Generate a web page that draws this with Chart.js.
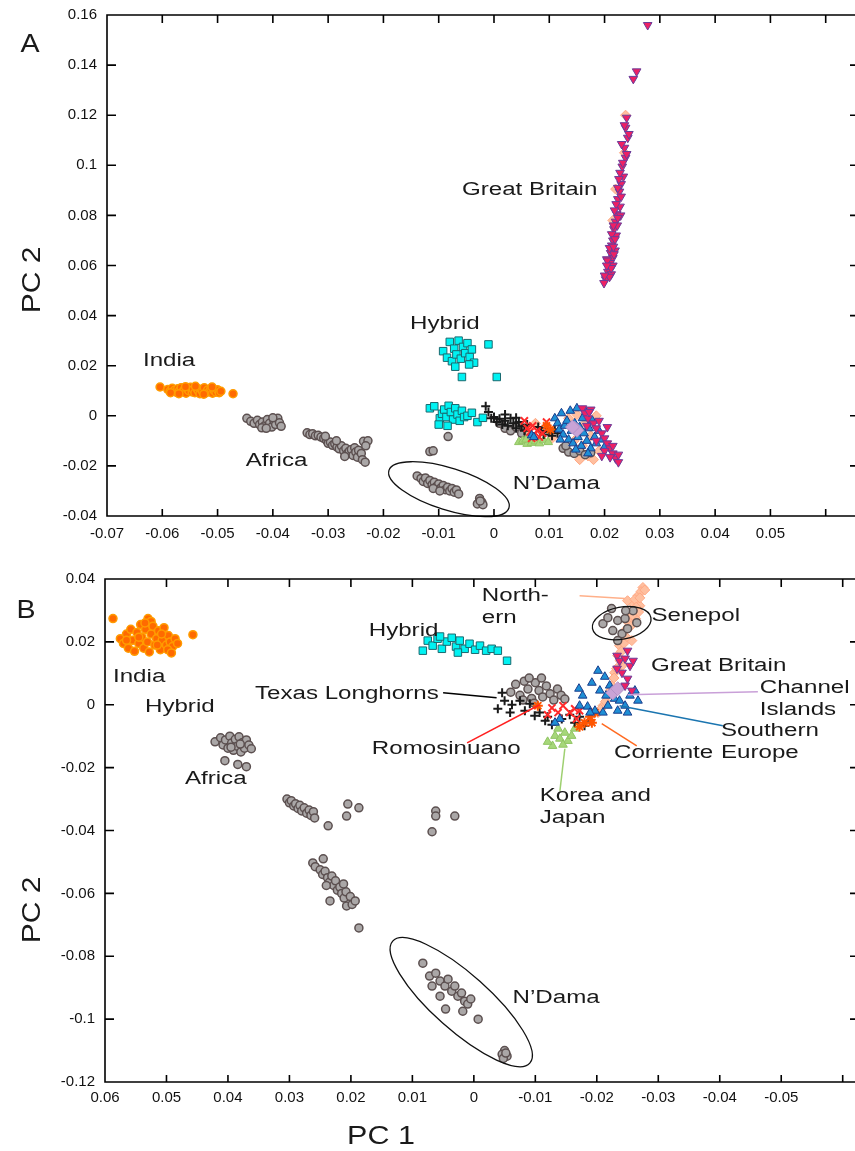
<!DOCTYPE html>
<html>
<head>
<meta charset="utf-8">
<script src="https://cdn.jsdelivr.net/npm/chart.js@4.4.1/dist/chart.umd.min.js"></script>
<style>
body{margin:0;background:#fff;width:855px;height:1151px;position:relative;overflow:hidden}
canvas{position:absolute;left:0}
#chartA{top:0}
#chartB{top:560px}
</style>
</head>
<body>
<canvas id="chartA" width="863" height="550"></canvas>
<canvas id="chartB" width="863" height="591"></canvas>
<script>
// ---- tick values / labels ----
const xTicksA = [-0.07,-0.06,-0.05,-0.04,-0.03,-0.02,-0.01,0,0.01,0.02,0.03,0.04,0.05,0.06];
const xTickLabelsA = ['-0.07','-0.06','-0.05','-0.04','-0.03','-0.02','-0.01','0','0.01','0.02','0.03','0.04','0.05',''];
const yTicksA = [0.16,0.14,0.12,0.1,0.08,0.06,0.04,0.02,0,-0.02,-0.04];
const yTickLabelsA = ['0.16','0.14','0.12','0.1','0.08','0.06','0.04','0.02','0','-0.02','-0.04'];
const xTicksB = [0.06,0.05,0.04,0.03,0.02,0.01,0,-0.01,-0.02,-0.03,-0.04,-0.05,-0.06];
const xTickLabelsB = ['0.06','0.05','0.04','0.03','0.02','0.01','0','-0.01','-0.02','-0.03','-0.04','-0.05',''];
const yTicksB = [0.04,0.02,0,-0.02,-0.04,-0.06,-0.08,-0.1,-0.12];
const yTickLabelsB = ['0.04','0.02','0','-0.02','-0.04','-0.06','-0.08','-0.1','-0.12'];

// ---- panel A points [PC1, PC2] ----
const indiaA = [[-0.0604,0.0115],[-0.0472,0.0088],[-0.0590,0.0105],[-0.0586,0.0098],[-0.0582,0.0110],[-0.0578,0.0102],[-0.0575,0.0094],[-0.0572,0.0108],[-0.0569,0.0100],[-0.0566,0.0112],[-0.0563,0.0096],[-0.0560,0.0104],[-0.0557,0.0090],[-0.0555,0.0108],[-0.0552,0.0100],[-0.0549,0.0114],[-0.0546,0.0095],[-0.0544,0.0105],[-0.0541,0.0092],[-0.0538,0.0110],[-0.0535,0.0100],[-0.0532,0.0088],[-0.0530,0.0106],[-0.0527,0.0097],[-0.0524,0.0112],[-0.0521,0.0092],[-0.0518,0.0103],[-0.0515,0.0096],[-0.0512,0.0108],[-0.0509,0.0090],[-0.0506,0.0100],[-0.0503,0.0094],[-0.0500,0.0104],[-0.0497,0.0092],[-0.0494,0.0098],[-0.0585,0.0092],[-0.0570,0.0088],[-0.0558,0.0116],[-0.0540,0.0118],[-0.0525,0.0086],[-0.0510,0.0115]];
const africaA = [[-0.0447,-0.0010],[-0.0440,-0.0022],[-0.0434,-0.0030],[-0.0428,-0.0018],[-0.0424,-0.0035],[-0.0419,-0.0025],[-0.0415,-0.0040],[-0.0410,-0.0015],[-0.0406,-0.0030],[-0.0402,-0.0045],[-0.0398,-0.0020],[-0.0395,-0.0035],[-0.0391,-0.0010],[-0.0388,-0.0028],[-0.0385,-0.0042],[-0.0420,-0.0048],[-0.0412,-0.0050],[-0.0400,-0.0008],
  [-0.0338,-0.0068],[-0.0333,-0.0075],[-0.0328,-0.0072],[-0.0323,-0.0080],[-0.0318,-0.0078],[-0.0313,-0.0085],[-0.0308,-0.0090],[-0.0303,-0.0098],[-0.0300,-0.0110],[-0.0296,-0.0105],[-0.0292,-0.0118],[-0.0288,-0.0112],[-0.0284,-0.0125],[-0.0280,-0.0132],[-0.0276,-0.0120],[-0.0272,-0.0140],[-0.0268,-0.0130],[-0.0265,-0.0150],[-0.0262,-0.0142],[-0.0258,-0.0135],[-0.0255,-0.0158],[-0.0252,-0.0128],[-0.0250,-0.0145],[-0.0247,-0.0165],[-0.0245,-0.0138],[-0.0240,-0.0150],[-0.0236,-0.0102],[-0.0228,-0.0100],[-0.0232,-0.0120],[-0.0238,-0.0175],[-0.0233,-0.0185],[-0.0270,-0.0162],[-0.0285,-0.0100],[-0.0305,-0.0082],
  [-0.0116,-0.0143],[-0.0110,-0.0140],[-0.0083,-0.0083]];
const ndamaA = [[-0.0139,-0.0240],[-0.0132,-0.0250],[-0.0128,-0.0262],[-0.0124,-0.0248],[-0.0120,-0.0270],[-0.0116,-0.0258],[-0.0112,-0.0275],[-0.0108,-0.0265],[-0.0104,-0.0282],[-0.0100,-0.0272],[-0.0096,-0.0288],[-0.0092,-0.0278],[-0.0088,-0.0295],[-0.0084,-0.0285],[-0.0080,-0.0300],[-0.0076,-0.0290],[-0.0072,-0.0305],[-0.0068,-0.0296],[-0.0064,-0.0312],[-0.0110,-0.0290],[-0.0098,-0.0300],[-0.0026,-0.0330],[-0.0022,-0.0345],[-0.0030,-0.0352],[-0.0020,-0.0355],[-0.0025,-0.0340]];
const senepolA = [[0.0020,-0.0050],[0.0030,-0.0060],[0.0040,-0.0045],[0.0050,-0.0070],[0.0010,-0.0030],[0.0125,-0.0130],[0.0135,-0.0145],[0.0145,-0.0150],[0.0155,-0.0140],[0.0165,-0.0155],[0.0175,-0.0148],[0.0130,-0.0120]];
const hybridA = [[-0.0092,0.0258],[-0.0085,0.0232],[-0.0080,0.0295],[-0.0076,0.0218],[-0.0072,0.0268],[-0.0068,0.0245],[-0.0064,0.0300],[-0.0060,0.0228],[-0.0056,0.0275],[-0.0052,0.0250],[-0.0048,0.0290],[-0.0044,0.0235],[-0.0040,0.0265],[-0.0036,0.0212],[-0.0070,0.0196],[-0.0058,0.0155],[-0.0010,0.0285],[0.0005,0.0155],[-0.0045,0.0205],
  [-0.0116,0.0030],[-0.0108,0.0038],[-0.0098,-0.0010],[-0.0094,0.0008],[-0.0090,0.0025],[-0.0086,-0.0005],[-0.0082,0.0040],[-0.0078,0.0015],[-0.0074,-0.0015],[-0.0070,0.0030],[-0.0066,0.0005],[-0.0062,-0.0020],[-0.0058,0.0020],[-0.0054,-0.0005],[-0.0048,0.0000],[-0.0040,0.0012],[-0.0030,-0.0025],[-0.0020,-0.0008],[-0.0100,-0.0035],[-0.0084,-0.0040]];
const texasA = [[-0.0015,0.0038],[-0.0010,0.0015],[-0.0005,-0.0010],[0.0000,-0.0005],[0.0005,-0.0025],[0.0010,-0.0012],[0.0015,-0.0035],[0.0020,-0.0020],[0.0025,-0.0040],[0.0030,-0.0010],[0.0035,-0.0030],[0.0040,-0.0050],[0.0045,-0.0025],[0.0050,-0.0042],[0.0055,-0.0060],[0.0060,-0.0035],[0.0080,-0.0045],[0.0085,-0.0060],[0.0090,-0.0075],[0.0095,-0.0050],[0.0100,-0.0065],[0.0105,-0.0080],[0.0110,-0.0055],[0.0115,-0.0070],[0.0020,0.0005],[0.0040,-0.0008]];
const romoA = [[0.0055,-0.0020],[0.0060,-0.0050],[0.0065,-0.0065],[0.0070,-0.0040],[0.0072,-0.0075],[0.0078,-0.0060],[0.0082,-0.0085],[0.0088,-0.0070],[0.0095,-0.0025],[0.0068,-0.0090]];
const koreaA = [[0.0045,-0.0105],[0.0052,-0.0100],[0.0060,-0.0112],[0.0068,-0.0108],[0.0075,-0.0102],[0.0082,-0.0110],[0.0090,-0.0098],[0.0098,-0.0105],[0.0058,-0.0095]];
const corrienteA = [[0.0095,-0.0040],[0.0102,-0.0055]];
const southA = [[0.0068,-0.0078],[0.0072,-0.0085],[0.0110,-0.0010],[0.0115,-0.0030],[0.0118,-0.0055],[0.0122,0.0010],[0.0125,-0.0075],[0.0128,-0.0040],[0.0132,-0.0020],[0.0135,-0.0095],[0.0138,0.0020],[0.0140,-0.0060],[0.0143,-0.0110],[0.0146,-0.0030],[0.0150,0.0030],[0.0152,-0.0085],[0.0155,-0.0045],[0.0158,-0.0120],[0.0160,-0.0010],[0.0163,-0.0070],[0.0166,0.0015],[0.0168,-0.0100],[0.0172,-0.0050],[0.0175,-0.0130],[0.0178,-0.0020],[0.0182,-0.0085],[0.0185,-0.0110],[0.0190,-0.0060],[0.0120,-0.0095],[0.0148,-0.0135],[0.0170,-0.0150],[0.0195,-0.0095],[0.0200,-0.0125]];
const channelA = [[0.0146,-0.0050],[0.0150,-0.0058],[0.0142,-0.0045]];
const northA = [[0.0135,-0.0010],[0.0150,0.0005],[0.0165,-0.0030],[0.0175,-0.0080],[0.0160,-0.0120],[0.0170,-0.0160],[0.0180,-0.0175],[0.0155,-0.0175],[0.0190,-0.0140],[0.0145,-0.0100],[0.0060,-0.0050],[0.0045,-0.0040],[0.0075,-0.0030],[0.0105,-0.0090],[0.0185,0.0000],[0.0238,0.1200],[0.0220,0.0905],[0.0215,0.0780],[0.0236,0.1050]];
const britainA = [[0.0278,0.1560],[0.0258,0.1375],[0.0252,0.1345],[0.0240,0.1190],[0.0238,0.1150],[0.0242,0.1110],[0.0236,0.1070],[0.0238,0.1030],[0.0232,0.0995],[0.0234,0.0955],[0.0230,0.0925],[0.0227,0.0895],[0.0224,0.0865],[0.0228,0.0835],[0.0222,0.0805],[0.0220,0.0775],[0.0217,0.0745],[0.0221,0.0720],[0.0215,0.0700],[0.0213,0.0680],[0.0219,0.0660],[0.0211,0.0650],[0.0215,0.0630],[0.0210,0.0610],[0.0208,0.0590],[0.0215,0.0600],[0.0206,0.0575],[0.0212,0.0565],[0.0202,0.0545],[0.0199,0.0530],[0.0204,0.0625],[0.0217,0.0645],[0.0223,0.0760],[0.0229,0.0800],[0.0231,0.1085],[0.0244,0.1125],
  [0.0236,0.1160],[0.0240,0.1045],[0.0233,0.1010],[0.0228,0.0970],[0.0226,0.0945],[0.0224,0.0910],[0.0230,0.0875],[0.0221,0.0845],[0.0218,0.0820],[0.0224,0.0790],[0.0216,0.0760],[0.0213,0.0725],[0.0219,0.0705],[0.0209,0.0670],[0.0216,0.0675],[0.0205,0.0620],[0.0212,0.0590],[0.0204,0.0600],[0.0209,0.0555],[0.0200,0.0560],
  [0.0160,0.0030],[0.0165,0.0010],[0.0170,-0.0010],[0.0175,0.0025],[0.0180,-0.0030],[0.0185,-0.0050],[0.0190,-0.0020],[0.0195,-0.0070],[0.0200,-0.0090],[0.0205,-0.0110],[0.0210,-0.0130],[0.0215,-0.0150],[0.0220,-0.0170],[0.0225,-0.0185],[0.0200,-0.0140],[0.0210,-0.0165],[0.0185,-0.0100],[0.0215,-0.0120],[0.0195,-0.0160],[0.0225,-0.0155],[0.0172,0.0015],[0.0168,-0.0040],[0.0205,-0.0045]];

// ---- panel B points [PC1, PC2] ----
const indiaB = [[0.0587,0.0274],[0.0457,0.0223],[0.0530,0.0274],[0.0525,0.0265],[0.0575,0.0210],[0.0570,0.0195],[0.0565,0.0225],[0.0562,0.0180],[0.0558,0.0240],[0.0555,0.0205],[0.0552,0.0170],[0.0548,0.0230],[0.0545,0.0195],[0.0542,0.0255],[0.0540,0.0215],[0.0537,0.0180],[0.0534,0.0240],[0.0531,0.0200],[0.0528,0.0168],[0.0525,0.0225],[0.0522,0.0250],[0.0519,0.0190],[0.0516,0.0210],[0.0513,0.0235],[0.0510,0.0175],[0.0507,0.0205],[0.0504,0.0245],[0.0500,0.0190],[0.0497,0.0220],[0.0494,0.0200],[0.0490,0.0185],[0.0486,0.0210],[0.0482,0.0195],[0.0565,0.0205],[0.0545,0.0215],[0.0515,0.0190],[0.0498,0.0175],[0.0492,0.0165],[0.0535,0.0260],[0.0508,0.0225]];
const africaB = [[0.0421,-0.0118],[0.0412,-0.0105],[0.0408,-0.0128],[0.0404,-0.0112],[0.0400,-0.0138],[0.0397,-0.0100],[0.0394,-0.0122],[0.0391,-0.0145],[0.0388,-0.0110],[0.0385,-0.0132],[0.0382,-0.0102],[0.0379,-0.0150],[0.0376,-0.0120],[0.0373,-0.0138],[0.0370,-0.0112],[0.0366,-0.0128],[0.0362,-0.0140],[0.0380,-0.0125],[0.0395,-0.0135],[0.0405,-0.0178],[0.0384,-0.0190],[0.0370,-0.0197],
  [0.0304,-0.0300],[0.0300,-0.0312],[0.0297,-0.0305],[0.0293,-0.0322],[0.0290,-0.0315],[0.0286,-0.0330],[0.0283,-0.0320],[0.0280,-0.0338],[0.0276,-0.0328],[0.0272,-0.0345],[0.0268,-0.0335],[0.0265,-0.0352],[0.0261,-0.0340],[0.0259,-0.0360],[0.0237,-0.0385],[0.0205,-0.0316],[0.0207,-0.0354],[0.0187,-0.0328],
  [0.0262,-0.0503],[0.0245,-0.0490],[0.0258,-0.0515],[0.0250,-0.0525],[0.0246,-0.0540],[0.0242,-0.0530],[0.0238,-0.0550],[0.0235,-0.0565],[0.0231,-0.0545],[0.0228,-0.0575],[0.0225,-0.0560],[0.0222,-0.0590],[0.0218,-0.0580],[0.0215,-0.0600],[0.0211,-0.0615],[0.0208,-0.0595],[0.0207,-0.0640],[0.0201,-0.0610],[0.0198,-0.0635],[0.0193,-0.0624],[0.0234,-0.0624],[0.0187,-0.0710],[0.0240,-0.0575],[0.0212,-0.0570],
  [0.0062,-0.0338],[0.0062,-0.0354],[0.0031,-0.0354],[0.0068,-0.0404]];
const ndamaB = [[0.0083,-0.0822],[0.0072,-0.0863],[0.0062,-0.0854],[0.0055,-0.0879],[0.0047,-0.0895],[0.0042,-0.0873],[0.0036,-0.0911],[0.0031,-0.0895],[0.0026,-0.0927],[0.0020,-0.0917],[0.0015,-0.0943],[0.0010,-0.0952],[0.0005,-0.0936],[-0.0007,-0.1000],[0.0018,-0.0975],[0.0055,-0.0927],[0.0068,-0.0895],[0.0046,-0.0968],
  [-0.0050,-0.1100],[-0.0046,-0.1112],[-0.0054,-0.1118],[-0.0048,-0.1125],[-0.0052,-0.1108]];
const greyMidB = [[-0.0060,0.0040],[-0.0068,0.0065],[-0.0075,0.0030],[-0.0082,0.0075],[-0.0088,0.0050],[-0.0094,0.0020],[-0.0100,0.0070],[-0.0106,0.0045],[-0.0112,0.0025],[-0.0118,0.0060],[-0.0124,0.0035],[-0.0130,0.0015],[-0.0136,0.0050],[-0.0142,0.0030],[-0.0148,0.0018],[-0.0090,0.0085],[-0.0110,0.0085],[-0.0080,0.0015],[-0.0098,0.0005]];
const senepolB = [[-0.0210,0.0258],[-0.0218,0.0277],[-0.0226,0.0236],[-0.0234,0.0268],[-0.0241,0.0226],[-0.0246,0.0274],[-0.0250,0.0242],[-0.0259,0.0299],[-0.0265,0.0261],[-0.0224,0.0306],[-0.0234,0.0204],[-0.0247,0.0299]];
const northB = [[-0.0275,0.0373],[-0.0267,0.0347],[-0.0259,0.0322],[-0.0254,0.0293],[-0.0270,0.0315],[-0.0246,0.0236],[-0.0237,0.0188],[-0.0234,0.0156],[-0.0241,0.0124],[-0.0229,0.0102],[-0.0224,0.0061],[-0.0218,0.0029],[-0.0210,-0.0003],[-0.0202,-0.0025],[-0.0250,0.0331],[-0.0257,0.0204],[-0.0263,0.0274],[-0.0272,0.0360],[-0.0262,0.0335],[-0.0240,0.0170],
  [-0.0278,0.0365],[-0.0270,0.0340],[-0.0264,0.0310],[-0.0258,0.0285],[-0.0252,0.0260],[-0.0248,0.0215],[-0.0244,0.0195],[-0.0238,0.0140],[-0.0232,0.0115],[-0.0228,0.0085],[-0.0222,0.0045],[-0.0214,0.0010],[-0.0206,-0.0015],[-0.0268,0.0295],[-0.0255,0.0250]];
const britainB = [[-0.0233,0.0156],[-0.0237,0.0140],[-0.0246,0.0147],[-0.0254,0.0124],[-0.0241,0.0102],[-0.0250,0.0083],[-0.0259,0.0140],[-0.0233,0.0115],[-0.0246,0.0061],[-0.0257,0.0045],[-0.0250,0.0172]];
const southB = [[-0.0202,0.0108],[-0.0213,0.0089],[-0.0192,0.0070],[-0.0221,0.0061],[-0.0205,0.0045],[-0.0229,0.0019],[-0.0237,0.0013],[-0.0218,-0.0003],[-0.0197,-0.0019],[-0.0246,-0.0003],[-0.0254,0.0029],[-0.0262,0.0045],[-0.0234,-0.0019],[-0.0210,-0.0025],[-0.0185,-0.0006],[-0.0177,0.0029],[-0.0172,-0.0003],[-0.0189,-0.0025],[-0.0267,0.0013],[-0.0250,-0.0025],[-0.0171,0.0051],[-0.0140,-0.0045],[-0.0132,-0.0057],[-0.0224,0.0045],[-0.0215,0.0029]];
const channelB = [[-0.0226,0.0038],[-0.0234,0.0051]];
const texasB = [[-0.0046,0.0038],[-0.0050,0.0013],[-0.0062,0.0000],[-0.0059,-0.0025],[-0.0075,0.0013],[-0.0083,-0.0019],[-0.0091,0.0003],[-0.0099,-0.0035],[-0.0107,-0.0025],[-0.0116,-0.0051],[-0.0120,-0.0038],[-0.0127,-0.0064],[-0.0143,-0.0045],[-0.0156,-0.0032],[-0.0164,-0.0057],[-0.0172,-0.0038],[-0.0180,-0.0067],[-0.0189,-0.0051],[-0.0039,-0.0013]];
const romoB = [[-0.0127,-0.0010],[-0.0137,-0.0025],[-0.0145,-0.0003],[-0.0156,-0.0025],[-0.0164,-0.0013],[-0.0172,-0.0019],[-0.0167,-0.0045],[-0.0120,-0.0032]];
const corrienteB = [[-0.0104,-0.0003],[-0.0189,-0.0038],[-0.0180,-0.0057],[-0.0197,-0.0025],[-0.0172,-0.0070],[-0.0192,-0.0057]];
const koreaB = [[-0.0132,-0.0099],[-0.0140,-0.0108],[-0.0148,-0.0089],[-0.0153,-0.0115],[-0.0159,-0.0099],[-0.0145,-0.0127],[-0.0128,-0.0131],[-0.0164,-0.0076],[-0.0137,-0.0076],[-0.0120,-0.0118]];
const hybridB = [[0.0083,0.0172],[0.0075,0.0204],[0.0067,0.0188],[0.0059,0.0210],[0.0052,0.0178],[0.0044,0.0201],[0.0036,0.0213],[0.0029,0.0185],[0.0023,0.0204],[0.0015,0.0178],[0.0007,0.0194],[-0.0002,0.0175],[-0.0010,0.0188],[-0.0020,0.0172],[-0.0029,0.0178],[-0.0039,0.0172],[-0.0054,0.0140],[0.0055,0.0217],[0.0026,0.0166]];

// ---- annotations (data coordinates) ----
const labelsA = [
  {t:'Great Britain', x:-0.0058, y:0.0903},
  {t:'Hybrid', x:-0.0152, y:0.0368},
  {t:'India', x:-0.0635, y:0.0218},
  {t:'Africa', x:-0.0449, y:-0.0182},
  {t:'N\u2019Dama', x:0.0034, y:-0.0273}
];
const ellipsesA = [{from:[-0.0190,-0.0218], to:[0.0027,-0.0368], half:21}];
const labelsB = [
  {t:'North-', x:-0.0013, y:0.0347},
  {t:'ern', x:-0.0013, y:0.0277},
  {t:'Senepol', x:-0.0289, y:0.0283},
  {t:'Great Britain', x:-0.0288, y:0.0124},
  {t:'Channel', x:-0.0465, y:0.0054},
  {t:'Islands', x:-0.0465, y:-0.0016},
  {t:'Southern', x:-0.0402, y:-0.0083},
  {t:'Europe', x:-0.0402, y:-0.0153},
  {t:'Corriente', x:-0.0228, y:-0.0153},
  {t:'Texas Longhorns', x:0.0356, y:0.0035},
  {t:'Romosinuano', x:0.0166, y:-0.0140},
  {t:'Korea and', x:-0.0107, y:-0.0290},
  {t:'Japan', x:-0.0107, y:-0.0360},
  {t:'Hybrid', x:0.0171, y:0.0236},
  {t:'India', x:0.0587, y:0.0089},
  {t:'Hybrid', x:0.0535, y:-0.0006},
  {t:'Africa', x:0.0470, y:-0.0236},
  {t:'N\u2019Dama', x:-0.0063, y:-0.0933}
];
const leadersB = [
  {from:[-0.0172,0.0347], to:[-0.0246,0.0338], color:'#ffb08a'},
  {from:[-0.0250,0.0032], to:[-0.0462,0.0041], color:'#c9a0d8'},
  {from:[-0.0237,-0.0003], to:[-0.0405,-0.0067], color:'#1b75b0'},
  {from:[-0.0208,-0.0060], to:[-0.0265,-0.0131], color:'#ff6a20'},
  {from:[-0.0107,0.0000], to:[0.0011,-0.0121], color:'#ff2020'},
  {from:[0.0050,0.0038], to:[-0.0037,0.0022], color:'#000000'},
  {from:[-0.0148,-0.0140], to:[-0.0140,-0.0274], color:'#9ed070'}
];
const ellipsesB = [
  {from:[0.0132,-0.0752], to:[-0.0091,-0.1140], half:28},
  {from:[-0.0193,0.0242], to:[-0.0288,0.0277], half:16}
];

// ---- marker styles ----
const st = {
  britain: {pointStyle:'triangle', pointRotation:180, pointRadius:5, pointBackgroundColor:'#ee2064', pointBorderColor:'#6a3d9a', pointBorderWidth:1},
  channel: {pointStyle:'rectRot', pointRadius:7, pointBackgroundColor:'#c9a3d6', pointBorderColor:'#b592c7', pointBorderWidth:1},
  south: {pointStyle:'triangle', pointRadius:5, pointBackgroundColor:'#1e8fd5', pointBorderColor:'#1a3d8c', pointBorderWidth:1},
  corriente: {pointStyle:'star', pointRadius:5, pointBackgroundColor:'#ff5500', pointBorderColor:'#ff5500', pointBorderWidth:2},
  romo: {pointStyle:'crossRot', pointRadius:5, pointBackgroundColor:'#ff2a2a', pointBorderColor:'#ff2a2a', pointBorderWidth:2},
  texas: {pointStyle:'cross', pointRadius:4.5, pointBackgroundColor:'#1a1a1a', pointBorderColor:'#1a1a1a', pointBorderWidth:2},
  korea: {pointStyle:'triangle', pointRadius:5, pointBackgroundColor:'#a6d77a', pointBorderColor:'#90c462', pointBorderWidth:1},
  hybrid: {pointStyle:'rect', pointRadius:5.3, pointBackgroundColor:'#00f2f2', pointBorderColor:'#1a6a70', pointBorderWidth:1},
  india: {pointStyle:'circle', pointRadius:4, pointBackgroundColor:'#ff6a00', pointBorderColor:'#ff9c00', pointBorderWidth:1.5},
  grey: {pointStyle:'circle', pointRadius:4, pointBackgroundColor:'#aaa7a7', pointBorderColor:'#5c5050', pointBorderWidth:1.5},
  north: {pointStyle:'rectRot', pointRadius:5, pointBackgroundColor:'#ffbf9f', pointBorderColor:'#ffa883', pointBorderWidth:1}
};
const ds = (data, s) => Object.assign({data, showLine:false}, s);

const fontStack = '"Liberation Sans", Arial, Helvetica, sans-serif';
const visibleRight = 855;

function overlay(notes) {
  return {
    id: 'overlay',
    afterDatasetsDraw(chart) {
      const {ctx, chartArea: a} = chart;
      const xs = chart.scales.x, ys = chart.scales.y;
      const px = v => xs.getPixelForValue(v), py = v => ys.getPixelForValue(v);
      ctx.save();
      ctx.lineWidth = 1.5;
      for (const l of notes.lines) {
        ctx.strokeStyle = l.color;
        ctx.beginPath();
        ctx.moveTo(px(l.from[0]), py(l.from[1]));
        ctx.lineTo(px(l.to[0]), py(l.to[1]));
        ctx.stroke();
      }
      ctx.strokeStyle = '#111'; ctx.lineWidth = 1.3;
      for (const e of notes.ellipses) {
        const x1 = px(e.from[0]), y1 = py(e.from[1]), x2 = px(e.to[0]), y2 = py(e.to[1]);
        ctx.beginPath();
        ctx.ellipse((x1+x2)/2, (y1+y2)/2, Math.hypot(x2-x1, y2-y1)/2, e.half, Math.atan2(y2-y1, x2-x1), 0, Math.PI*2);
        ctx.stroke();
      }
      ctx.fillStyle = '#1a1a1a';
      ctx.font = '18px ' + fontStack;
      ctx.textBaseline = 'middle'; ctx.textAlign = 'left';
      for (const n of notes.labels) {
        ctx.save();
        ctx.translate(px(n.x), py(n.y));
        ctx.scale(1.34, 1);
        ctx.fillText(n.t, 0, 0);
        ctx.restore();
      }
      // frame with inward ticks (right edge ticks sit at the page edge)
      const r = Math.min(a.right, visibleRight);
      ctx.strokeStyle = '#000'; ctx.lineWidth = 1.6;
      ctx.beginPath();
      ctx.moveTo(a.right, a.top); ctx.lineTo(a.left, a.top);
      ctx.lineTo(a.left, a.bottom); ctx.lineTo(a.right, a.bottom);
      for (const t of xs.ticks) {
        const x = px(t.value);
        ctx.moveTo(x, a.bottom); ctx.lineTo(x, a.bottom - 7);
        ctx.moveTo(x, a.top); ctx.lineTo(x, a.top + 8);
      }
      for (const t of ys.ticks) {
        const y = py(t.value);
        ctx.moveTo(a.left, y); ctx.lineTo(a.left + 9, y);
        ctx.moveTo(r, y); ctx.lineTo(r - 5, y);
      }
      ctx.stroke();
      // panel titles
      for (const t of notes.titles) {
        ctx.save();
        ctx.translate(t.left, t.top);
        ctx.rotate(t.rot || 0);
        ctx.scale(t.sx || 1, 1);
        ctx.font = t.font;
        ctx.textAlign = 'center';
        ctx.fillText(t.t, 0, 0);
        ctx.restore();
      }
      ctx.restore();
    }
  };
}

function makeChart(id, cfg) {
  const fixY = s => { s.width = cfg.yWidth; s.paddingTop = 0; s.paddingBottom = 0; s.paddingLeft = 0; s.paddingRight = 0; };
  const fixX = s => { s.height = cfg.xHeight; s.paddingTop = 0; s.paddingBottom = 0; s.paddingLeft = 0; s.paddingRight = 0; };
  return new Chart(document.getElementById(id), {
    type: 'scatter',
    data: {datasets: cfg.datasets},
    options: {
      responsive: false, animation: false, devicePixelRatio: 1, events: [],
      layout: {padding: {top: cfg.top, left: 0, right: 0, bottom: 0}},
      plugins: {legend: {display: false}, tooltip: {enabled: false}},
      scales: {
        x: {
          type: 'linear', min: cfg.xMin, max: cfg.xMax, reverse: cfg.reverse,
          grid: {display: false, drawTicks: false}, border: {display: false},
          afterBuildTicks: s => { s.ticks = cfg.xTicks.map(v => ({value: v})); },
          afterFit: fixX,
          ticks: {autoSkip: false, maxRotation: 0, padding: cfg.xPad, color: '#111',
            font: {family: fontStack, size: 15}, callback: (v, i) => cfg.xLabels[i]}
        },
        y: {
          type: 'linear', min: cfg.yMin, max: cfg.yMax,
          grid: {display: false, drawTicks: false}, border: {display: false},
          afterBuildTicks: s => { s.ticks = cfg.yTicks.map(v => ({value: v})); },
          afterFit: fixY,
          ticks: {autoSkip: false, padding: 10, color: '#111',
            font: {family: fontStack, size: 15}, callback: (v, i) => cfg.yLabels[i]}
        }
      }
    },
    plugins: [overlay(cfg.notes)]
  });
}

makeChart('chartA', {
  top: 15, yWidth: 107, xHeight: 34, xPad: 9,
  xMin: -0.07, xMax: 0.0653, reverse: false, yMin: -0.04, yMax: 0.16,
  xTicks: xTicksA, xLabels: xTickLabelsA, yTicks: yTicksA, yLabels: yTickLabelsA,
  datasets: [
    ds(britainA, st.britain), ds(channelA, st.channel), ds(southA, st.south),
    ds(corrienteA, st.corriente), ds(romoA, st.romo), ds(texasA, st.texas),
    ds(koreaA, st.korea), ds(hybridA, st.hybrid), ds(indiaA, st.india),
    ds(africaA, st.grey), ds(ndamaA, st.grey), ds(senepolA, st.grey), ds(northA, st.north)
  ],
  notes: {
    labels: labelsA, lines: [], ellipses: ellipsesA,
    titles: [
      {t:'A', left:30, top:45, font:'26px ' + fontStack, sx:1.1},
      {t:'PC 2', left:33, top:280, rot:-Math.PI/2, font:'25px ' + fontStack, sx:1.2}
    ]
  }
});

makeChart('chartB', {
  top: 19, yWidth: 105, xHeight: 69, xPad: 7,
  xMin: -0.062, xMax: 0.06, reverse: true, yMin: -0.12, yMax: 0.04,
  xTicks: xTicksB, xLabels: xTickLabelsB, yTicks: yTicksB, yLabels: yTickLabelsB,
  datasets: [
    ds(britainB, st.britain), ds(channelB, st.channel), ds(southB, st.south),
    ds(corrienteB, st.corriente), ds(romoB, st.romo), ds(texasB, st.texas),
    ds(koreaB, st.korea), ds(hybridB, st.hybrid), ds(indiaB, st.india),
    ds(greyMidB, st.grey), ds(africaB, st.grey), ds(ndamaB, st.grey), ds(senepolB, st.grey), ds(northB, st.north)
  ],
  notes: {
    labels: labelsB, lines: leadersB, ellipses: ellipsesB,
    titles: [
      {t:'B', left:26, top:51, font:'26px ' + fontStack, sx:1.1},
      {t:'PC 2', left:33, top:350, rot:-Math.PI/2, font:'25px ' + fontStack, sx:1.2},
      {t:'PC 1', left:381, top:577, font:'25px ' + fontStack, sx:1.22}
    ]
  }
});
</script>
</body>
</html>
